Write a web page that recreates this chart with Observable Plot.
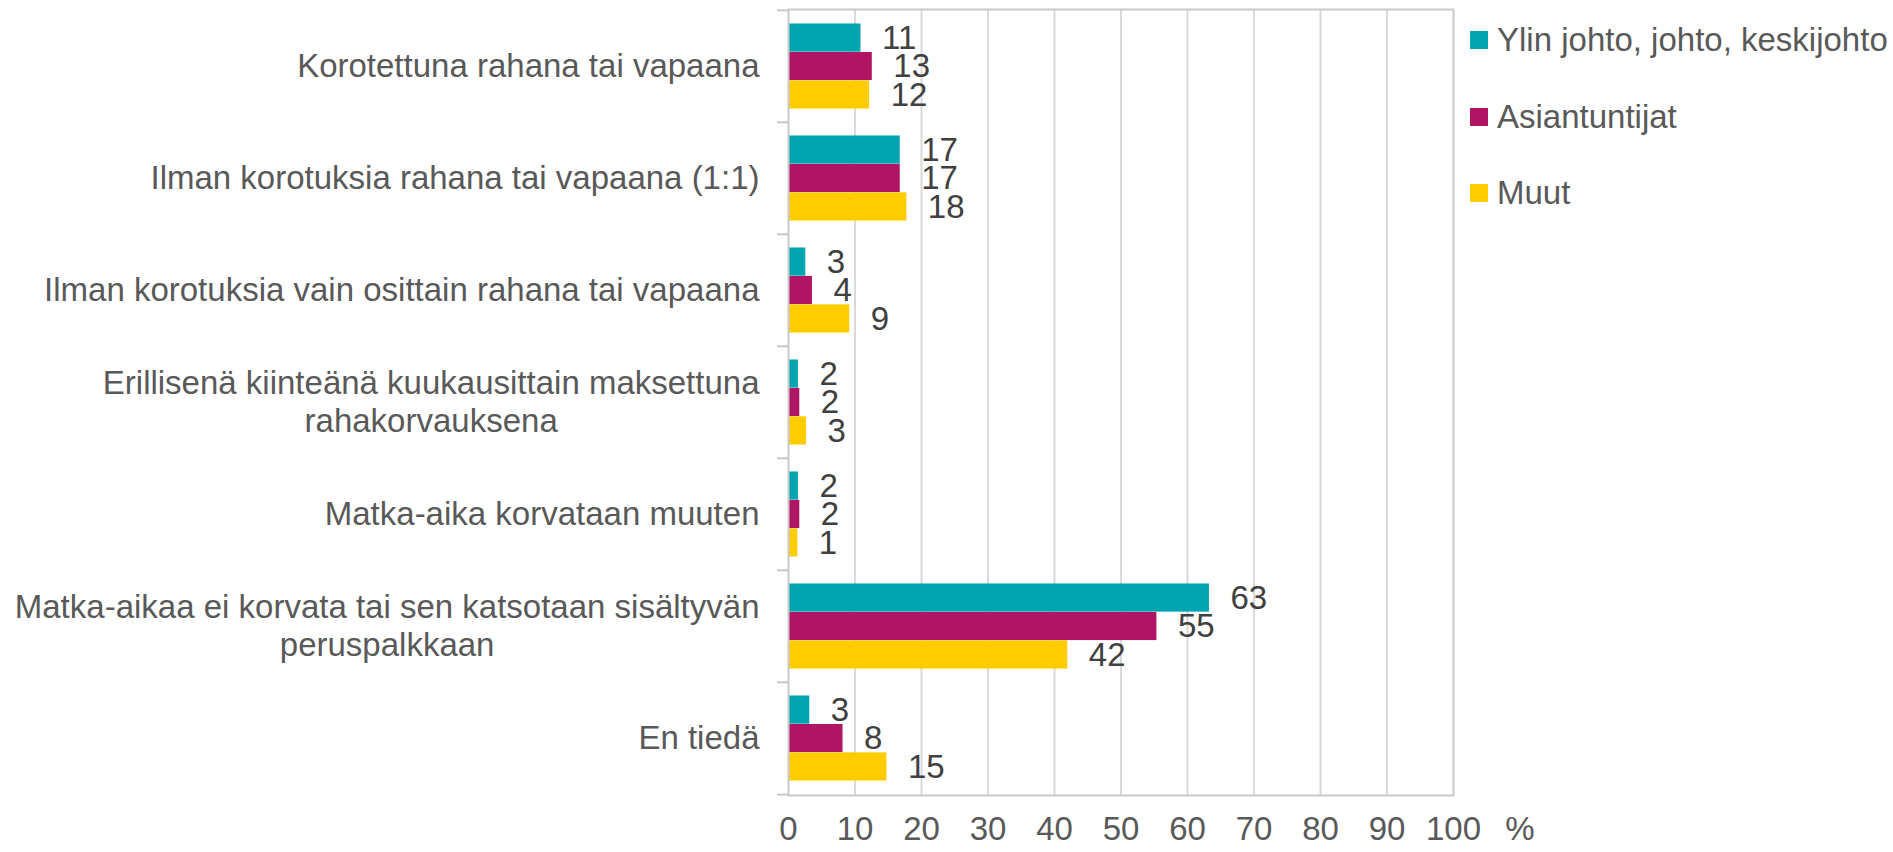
<!DOCTYPE html>
<html>
<head>
<meta charset="utf-8">
<script src="https://cdn.jsdelivr.net/npm/d3@7"></script>
<script src="https://cdn.jsdelivr.net/npm/@observablehq/plot@0.6"></script>
<style>
  html, body { margin: 0; padding: 0; background: #fff; }
  #wrap { position: relative; width: 1893px; height: 852px; font-family: "Liberation Sans", Arial, sans-serif; }
  #legend { position: absolute; left: 1470px; top: 22px; color: #595959; font-size: 33px; }
  .item { display: flex; align-items: center; height: 36px; margin-bottom: 40.5px; white-space: nowrap; }
  .sw { width: 18px; height: 18px; margin-right: 9px; flex: none; }
</style>
</head>
<body>
<div id="wrap"><div id="legend"></div></div>
<script>
const categories = [
  "Korotettuna rahana tai vapaana",
  "Ilman korotuksia rahana tai vapaana (1:1)",
  "Ilman korotuksia vain osittain rahana tai vapaana",
  "Erillisenä kiinteänä kuukausittain maksettuna\nrahakorvauksena",
  "Matka-aika korvataan muuten",
  "Matka-aikaa ei korvata tai sen katsotaan sisältyvän\nperuspalkkaan",
  "En tiedä"
];
const seriesNames = ["Ylin johto, johto, keskijohto", "Asiantuntijat", "Muut"];
const johto =         [10.9, 16.8, 2.6, 1.5, 1.5, 63.3, 3.2];
const asiantuntijat = [12.6, 16.8, 3.6, 1.7, 1.7, 55.4, 8.2];
const muut =          [12.2, 17.8, 9.2, 2.7, 1.4, 42.0, 14.8];
const colors = ["#00A5AF", "#AF1563", "#FFCC00"];
const xTicks = [0, 10, 20, 30, 40, 50, 60, 70, 80, 90, 100];
const unitLabel = "%";

const W = 1893, H = 852;
const mL = 788, mR = 440, mT = 9, mB = 57;
const step = (H - mT - mB) / categories.length;
const xStep = (W - mL - mR) / (xTicks.length - 1);
const outer = 0.12, barFrac = 0.76 / 3;
const font = '"Liberation Sans", Arial, sans-serif';
const fs = 33;

const valueSets = [johto, asiantuntijat, muut];
const data = categories.flatMap((c, i) => seriesNames.map((s, j) => ({category: c, series: s, j, value: valueSets[j][i]})));

// measure text for centered second lines
const ctx = document.createElement("canvas").getContext("2d");
ctx.font = `${fs}px ${font}`;
const labelItems = categories.map(c => {
  const lines = c.split("\n");
  return {category: c, lines, w1: ctx.measureText(lines[0]).width};
});

const lineH = 38;
const marks = [
  Plot.ruleX(xTicks.filter(t => t > xTicks[0] && t < xTicks[xTicks.length - 1]), {stroke: "#d9d9d9", strokeWidth: 2}),
  ...seriesNames.map((s, j) => Plot.barX(data.filter(d => d.j === j), {
    y: "category", x: "value", fill: colors[j],
    insetTop: step * (outer + j * barFrac),
    insetBottom: step * (1 - outer - (j + 1) * barFrac)
  })),
  Plot.frame({stroke: "#c9c9c9", strokeWidth: 2}),
  Plot.ruleY(categories, {y: d => d, x1: 0, x2: 0, insetLeft: -11, dy: -step / 2, stroke: "#c9c9c9", strokeWidth: 2}),
  Plot.ruleY(categories.slice(-1), {y: d => d, x1: 0, x2: 0, insetLeft: -11, dy: step / 2, stroke: "#c9c9c9", strokeWidth: 2}),
  Plot.text(xTicks, {x: d => d, frameAnchor: "bottom", dy: 44, fill: "#595959", fontSize: fs}),
  Plot.text([unitLabel], {x: () => xTicks[xTicks.length - 1], frameAnchor: "bottom", dy: 44, dx: xStep, fill: "#595959", fontSize: fs}),
  ...seriesNames.map((s, j) => Plot.text(data.filter(d => d.j === j), {
    x: "value", y: "category", text: d => String(Math.round(d.value)),
    dx: 21, dy: step * (outer + (j + 0.5) * barFrac - 0.5),
    textAnchor: "start", fill: "#404040", fontSize: fs
  })),
  Plot.text(labelItems.filter(d => d.lines.length === 1), {
    x: () => 0, y: "category", text: d => d.lines[0], textAnchor: "end", dx: -29, fill: "#595959", fontSize: fs
  }),
  Plot.text(labelItems.filter(d => d.lines.length > 1), {
    x: () => 0, y: "category", text: d => d.lines[0], textAnchor: "end", dx: -29, dy: -lineH / 2, fill: "#595959", fontSize: fs
  })
];
labelItems.filter(d => d.lines.length > 1).forEach(d => {
  marks.push(Plot.text([d], {
    x: () => 0, y: "category", text: e => e.lines[1], textAnchor: "middle",
    dx: -29 - d.w1 / 2, dy: lineH / 2, fill: "#595959", fontSize: fs
  }));
});

const chart = Plot.plot({
  width: W, height: H,
  marginLeft: mL, marginRight: mR, marginTop: mT, marginBottom: mB,
  style: {fontFamily: font, fontSize: `${fs}px`, background: "#fff", overflow: "visible"},
  x: {domain: [xTicks[0], xTicks[xTicks.length - 1]], axis: null},
  y: {domain: categories, padding: 0, axis: null},
  marks
});
document.getElementById("wrap").prepend(chart);

const legend = document.getElementById("legend");
seriesNames.forEach((s, j) => {
  const it = document.createElement("div");
  it.className = "item";
  it.innerHTML = `<span class="sw" style="background:${colors[j]}"></span><span>${s}</span>`;
  legend.appendChild(it);
});
</script>
</body>
</html>
